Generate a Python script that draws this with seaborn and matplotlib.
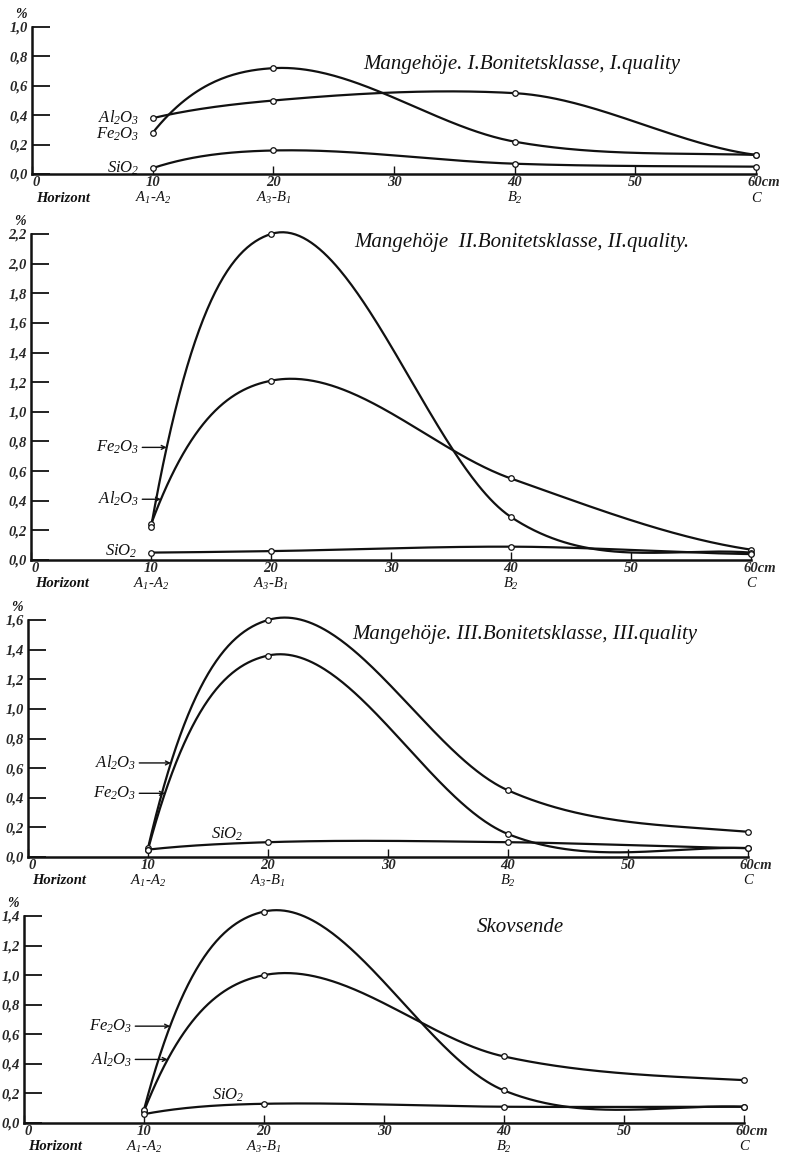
import numpy as np
import pandas as pd
import seaborn as sns
import matplotlib.pyplot as plt
import matplotlib.transforms as mtransforms

# depth of the sampled horizons (cm)
depth = [10, 20, 40, 60]
horizons = ["$A_1$-$A_2$", "$A_3$-$B_1$", "$B_2$", "C"]

# Mangehoeje, I. quality
p1_al = [0.38, 0.50, 0.55, 0.13]
p1_fe = [0.28, 0.72, 0.22, 0.13]
p1_si = [0.04, 0.16, 0.07, 0.05]

# Mangehoeje, II. quality
p2_al = [0.24, 1.21, 0.55, 0.07]
p2_fe = [0.22, 2.20, 0.29, 0.05]
p2_si = [0.05, 0.06, 0.09, 0.04]

# Mangehoeje, III. quality
p3_al = [0.06, 1.60, 0.45, 0.17]
p3_fe = [0.05, 1.36, 0.155, 0.06]
p3_si = [0.05, 0.10, 0.10, 0.06]

# Skovsende
p4_al = [0.08, 1.00, 0.45, 0.29]
p4_fe = [0.09, 1.43, 0.22, 0.11]
p4_si = [0.06, 0.13, 0.11, 0.11]

titles = ["Mangehöje. I.Bonitetsklasse, I.quality",
          "Mangehöje  II.Bonitetsklasse, II.quality.",
          "Mangehöje. III.Bonitetsklasse, III.quality",
          "Skovsende"]
y_tops = [1.0, 2.2, 1.6, 1.4]

AL, FE, SI = "$Al_2O_3$", "$Fe_2O_3$", "$SiO_2$"


def smooth_curve(x, y, n=300, tension=0.5):
    # cubic hermite through the points, tangents from neighbouring secants
    x = np.asarray(x, float)
    y = np.asarray(y, float)
    h = np.diff(x)
    d = np.diff(y) / h
    m = np.zeros(len(x))
    for k in range(1, len(x) - 1):
        m[k] = 0.5 * (d[k - 1] + d[k])
        if d[k - 1] * d[k] < 0:  # flatten a bit at peaks
            m[k] *= tension
    m[0] = 2.5 * d[0] - 1.5 * m[1]
    m[-1] = 0.5 * d[-1]
    xs = np.linspace(x[0], x[-1], n)
    i = np.clip(np.searchsorted(x, xs, side="right") - 1, 0, len(x) - 2)
    t = (xs - x[i]) / h[i]
    h00 = 2 * t ** 3 - 3 * t ** 2 + 1
    h10 = t ** 3 - 2 * t ** 2 + t
    h01 = -2 * t ** 3 + 3 * t ** 2
    h11 = t ** 3 - t ** 2
    ys = h00 * y[i] + h10 * h[i] * m[i] + h01 * y[i + 1] + h11 * h[i] * m[i + 1]
    return xs, ys


def x_on_rise(xs, ys, yv):
    # x position where the rising part of the curve reaches yv
    msk = (xs >= 10) & (xs <= 20)
    return np.interp(yv, ys[msk], xs[msk])


sns.set_theme(style="white")
plt.rcParams["font.family"] = ["Liberation Serif", "DejaVu Serif"]
plt.rcParams["mathtext.fontset"] = "custom"
plt.rcParams["mathtext.it"] = "Liberation Serif:italic"
plt.rcParams["mathtext.rm"] = "Liberation Serif:italic"

fig = plt.figure(figsize=(7.86, 11.59), dpi=100)
W, H = 786, 1159
# pixel frame of each panel: x of 0, x of 60, y of top tick, y of zero
frames = [(32, 756, 27, 174), (31, 751, 234, 560), (28, 748, 620, 857), (24, 744, 916, 1123)]
title_pos = [(522, 64), (522, 242), (525, 634), (520, 927)]

panels = [
    (p1_al, p1_fe, p1_si),
    (p2_al, p2_fe, p2_si),
    (p3_al, p3_fe, p3_si),
    (p4_al, p4_fe, p4_si),
]

tick_font = dict(style="italic", weight="bold", size=10.5)
ink = "#111111"
px = 1 / 100

for n, ((al, fe, si), (x0, x60, yt, yz), top) in enumerate(zip(panels, frames, y_tops)):
    ax = fig.add_axes([x0 / W, 1 - yz / H, (x60 - x0) / W, (yz - yt) / H])

    smooth = []
    curves = {}
    for name, vals in [(AL, al), (FE, fe), (SI, si)]:
        xs, ys = smooth_curve(depth, vals)
        curves[name] = (xs, ys)
        smooth.append(pd.DataFrame({"depth": xs, "pct": ys, "oxide": name}))
    smooth = pd.concat(smooth)
    pts = pd.DataFrame({"depth": depth * 3, "pct": al + fe + si,
                        "oxide": [AL] * 4 + [FE] * 4 + [SI] * 4})

    sns.lineplot(data=smooth, x="depth", y="pct", units="oxide", estimator=None,
                 sort=False, color=ink, lw=1.6, legend=False, ax=ax, clip_on=False)
    sns.scatterplot(data=pts, x="depth", y="pct", marker="o", s=16, facecolor="white",
                    edgecolor=ink, linewidth=0.9, legend=False, ax=ax, zorder=5, clip_on=False)

    ax.set_xlim(0, 60)
    ax.set_ylim(0, top)
    ax.set_xlabel("")
    ax.set_ylabel("")
    sns.despine(ax=ax)
    for s in ["left", "bottom"]:
        ax.spines[s].set_color(ink)
        ax.spines[s].set_linewidth(1.8)

    yt_vals = np.round(np.arange(0, top + 0.01, 0.2), 1)
    ax.set_yticks(yt_vals)
    ax.set_yticklabels([f"{v:.1f}".replace(".", ",") for v in yt_vals], **tick_font)
    ax.tick_params(axis="y", direction="in", length=13, width=1.3, color=ink, pad=3, left=True)
    ax.set_xticks([0, 10, 20, 30, 40, 50, 60])
    ax.set_xticklabels(["0", "10", "20", "30", "40", "50", "60cm"], **tick_font)
    ax.tick_params(axis="x", direction="in", length=6, width=1.0, color=ink, pad=1.5, bottom=True)
    xl = ax.get_xticklabels()
    xl[0].set_transform(xl[0].get_transform() + mtransforms.ScaledTranslation(4 * px, 0, fig.dpi_scale_trans))
    xl[-1].set_ha("left")
    xl[-1].set_transform(xl[-1].get_transform() + mtransforms.ScaledTranslation(-8 * px, 0, fig.dpi_scale_trans))

    # horizon names under the depths
    below = mtransforms.offset_copy(ax.get_xaxis_transform(), fig=fig, x=0, y=-24, units="dots")
    for d, hname in zip(depth, horizons):
        ax.text(d, 0, hname, transform=below, ha="center", va="center",
                style="italic", size=10.5, color=ink)
    ax.text(2.6, 0, "Horizont", transform=below, ha="center", va="center",
            style="italic", weight="bold", size=10.5, color=ink)
    ax.annotate("%", xy=(0, 1), xycoords="axes fraction", xytext=(-8, 4), textcoords="offset points",
                ha="center", va="bottom", style="italic", weight="bold", size=10, color=ink)

    tx, ty = title_pos[n]
    fig.text(tx / W, 1 - ty / H, titles[n], ha="center", va="center", style="italic", size=15, color=ink)

    lab = dict(style="italic", size=12, color=ink, va="center")
    if n == 0:
        ax.text(8.9, 0.38, AL, ha="right", **lab)
        ax.text(8.9, 0.27, FE, ha="right", **lab)
        ax.text(8.9, 0.04, SI, ha="right", **lab)
    else:
        if n == 1:
            marks = [(FE, 0.76), (AL, 0.41)]
            si_xy, si_ha = (8.9, 0.06), "right"
        elif n == 2:
            marks = [(AL, 0.635), (FE, 0.43)]
            si_xy, si_ha = (16.6, 0.15), "center"
        else:
            marks = [(FE, 0.655), (AL, 0.43)]
            si_xy, si_ha = (17.0, 0.19), "center"
        for name, yv in marks:
            xs, ys = curves[name]
            xt = x_on_rise(xs, ys, yv)
            ax.annotate(name, xy=(xt, yv), xytext=(9.0, yv), ha="right", **lab,
                        arrowprops=dict(arrowstyle="->", color=ink, lw=1.0, shrinkA=0, shrinkB=0,
                                        mutation_scale=7))
        ax.text(si_xy[0], si_xy[1], SI, ha=si_ha, **lab)

fig.savefig("out.png", dpi=100, facecolor="white")
